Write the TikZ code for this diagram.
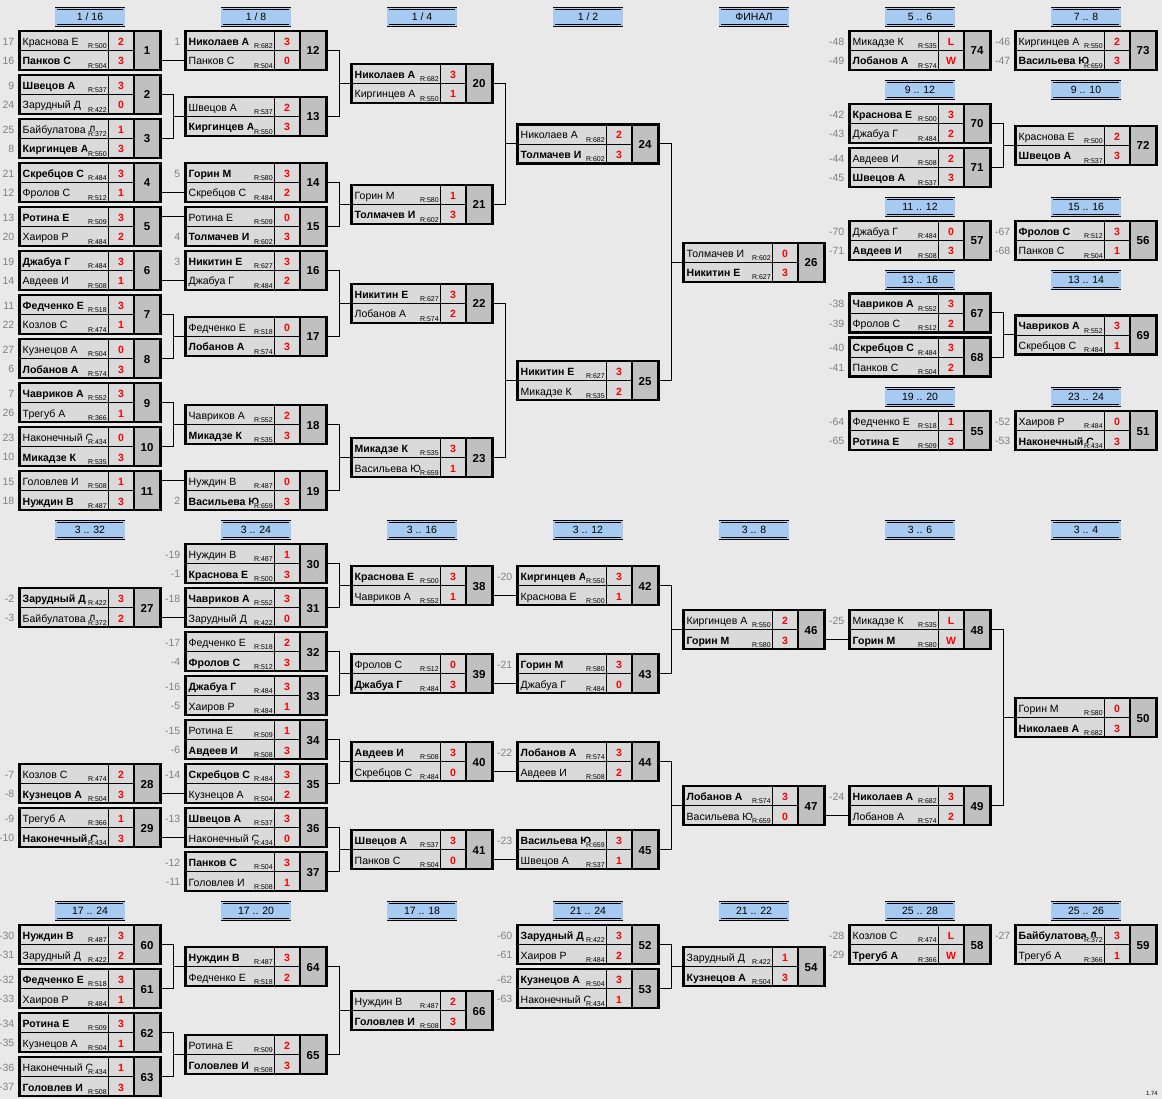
\documentclass[tikz,border=0pt]{standalone}
\usepackage{fontspec}
\setmainfont{Liberation Sans}
\definecolor{bgc}{HTML}{E9E9E9}
\definecolor{cellc}{HTML}{DADADA}
\definecolor{numc}{HTML}{C0C0C0}
\definecolor{hdrc}{HTML}{A6CAF0}
\definecolor{seedc}{HTML}{808080}
\tikzset{
 conn/.style={draw=black, line width=1pt},
 frame/.style={draw=black, line width=2.4pt, minimum width=141pt, minimum height=39pt, inner sep=0pt, outer sep=0pt},
 nm/.style={inner sep=0pt, font=\fontsize{10.5}{12}\selectfont},
 rt/.style={inner sep=0.6pt, fill=cellc, font=\fontsize{7}{8}\selectfont},
 sc/.style={inner sep=0pt, text=red, font=\bfseries\fontsize{10.5}{12}\selectfont},
 num/.style={inner sep=0pt, font=\bfseries\fontsize{11.5}{13}\selectfont},
 seed/.style={inner sep=0pt, text=seedc, font=\fontsize{10.5}{12}\selectfont},
 hdr/.style={draw=black, double=hdrc, double distance=1.2pt, line width=0.8pt, fill=hdrc, minimum width=68pt, minimum height=17pt, inner sep=0pt, font=\fontsize{10.5}{12}\selectfont},
}
\newcommand\Wn{\bfseries}
\newcommand\Match[9]{%
 \fill[cellc] (#2,#3-19.5) rectangle (#2+114,#3+19.5);
 \fill[numc] (#2+114,#3-19.5) rectangle (#2+141,#3+19.5);
 \begin{scope}
 \clip (#2,#3-19.5) rectangle (#2+88.5,#3+19.5);
 \node[nm,anchor=base west] (m#1na) at (#2+3,#3-5) {#4};
 \node[nm,anchor=base west] (m#1nb) at (#2+3,#3+14.5) {#7};
 \end{scope}
 \node[rt,anchor=south east] (m#1ra) at (#2+88,#3-1) {R:#5};
 \node[rt,anchor=south east] (m#1rb) at (#2+88,#3+18.5) {R:#8};
 \draw[line width=0.8pt] (#2,#3) -- (#2+114,#3) (#2+89,#3-19.5) -- (#2+89,#3+19.5);
 \draw[line width=2pt] (#2+114,#3-19.5) -- (#2+114,#3+19.5);
 \node[sc,anchor=base] (m#1sa) at (#2+101.5,#3-5) {#6};
 \node[sc,anchor=base] (m#1sb) at (#2+101.5,#3+14.5) {#9};
 \node[num,anchor=base] (m#1n) at (#2+127.5,#3+4.5) {#1};
 \node[frame] (m#1) at (#2+70.5,#3) {};
 \coordinate (m#1a) at (#2,#3-9.75);
 \coordinate (m#1b) at (#2,#3+9.75);
}
\newcommand\Sd[2]{\node[seed,anchor=base east,xshift=-5pt,yshift=-4.5pt] (s#1) at (#1) {#2};}
\newcommand\Ln[2]{\draw[conn] (m#1.east |- m#2) -- (m#2);}
\newcommand\Fk[3]{\draw[conn] (m#1.east) -- ++(13,0) |- (m#2.east); \draw[conn] (m#3.west) -- ++(-12,0);}
\newcommand\Hd[4]{\node[hdr] (#1) at (#2,#3) {#4};}
\begin{document}
\begin{tikzpicture}[x=1pt,y=-1pt]
\fill[bgc] (0,0) rectangle (1162,1099);
\useasboundingbox (0,0) rectangle (1162,1099);
% headers
\Hd{h1}{90}{17}{1 / 16}
\Hd{h2}{256}{17}{1 / 8}
\Hd{h3}{422}{17}{1 / 4}
\Hd{h4}{588}{17}{1 / 2}
\Hd{h5}{754}{17}{ФИНАЛ}
\Hd{h6}{920}{17}{5 .. 6}
\Hd{h7}{1086}{17}{7 .. 8}
\Hd{h8}{920}{90}{9 .. 12}
\Hd{h9}{1086}{90}{9 .. 10}
\Hd{h10}{920}{207}{11 .. 12}
\Hd{h11}{1086}{207}{15 .. 16}
\Hd{h12}{920}{280}{13 .. 16}
\Hd{h13}{1086}{280}{13 .. 14}
\Hd{h14}{920}{397}{19 .. 20}
\Hd{h15}{1086}{397}{23 .. 24}
\Hd{h16}{90}{530}{3 .. 32}
\Hd{h17}{256}{530}{3 .. 24}
\Hd{h18}{422}{530}{3 .. 16}
\Hd{h19}{588}{530}{3 .. 12}
\Hd{h20}{754}{530}{3 .. 8}
\Hd{h21}{920}{530}{3 .. 6}
\Hd{h22}{1086}{530}{3 .. 4}
\Hd{h23}{90}{911}{17 .. 24}
\Hd{h24}{256}{911}{17 .. 20}
\Hd{h25}{422}{911}{17 .. 18}
\Hd{h26}{588}{911}{21 .. 24}
\Hd{h27}{754}{911}{21 .. 22}
\Hd{h28}{920}{911}{25 .. 28}
\Hd{h29}{1086}{911}{25 .. 26}
% top section
\Match{1}{19.5}{50.5}{Краснова Е}{500}{2}{\Wn Панков С}{504}{3}
\Match{2}{19.5}{94.5}{\Wn Швецов А}{537}{3}{Зарудный Д}{422}{0}
\Match{3}{19.5}{138.5}{Байбулатова Д}{372}{1}{\Wn Киргинцев А}{550}{3}
\Match{4}{19.5}{182.5}{\Wn Скребцов С}{484}{3}{Фролов С}{512}{1}
\Match{5}{19.5}{226.5}{\Wn Ротина Е}{509}{3}{Хаиров Р}{484}{2}
\Match{6}{19.5}{270.5}{\Wn Джабуа Г}{484}{3}{Авдеев И}{508}{1}
\Match{7}{19.5}{314.5}{\Wn Федченко Е}{518}{3}{Козлов С}{474}{1}
\Match{8}{19.5}{358.5}{Кузнецов А}{504}{0}{\Wn Лобанов А}{574}{3}
\Match{9}{19.5}{402.5}{\Wn Чавриков А}{552}{3}{Трегуб А}{366}{1}
\Match{10}{19.5}{446.5}{Наконечный С}{434}{0}{\Wn Микадзе К}{535}{3}
\Match{11}{19.5}{490.5}{Головлев И}{508}{1}{\Wn Нуждин В}{487}{3}
\Sd{m1a}{17}\Sd{m1b}{16}\Sd{m2a}{9}\Sd{m2b}{24}\Sd{m3a}{25}\Sd{m3b}{8}
\Sd{m4a}{21}\Sd{m4b}{12}\Sd{m5a}{13}\Sd{m5b}{20}\Sd{m6a}{19}\Sd{m6b}{14}
\Sd{m7a}{11}\Sd{m7b}{22}\Sd{m8a}{27}\Sd{m8b}{6}\Sd{m9a}{7}\Sd{m9b}{26}
\Sd{m10a}{23}\Sd{m10b}{10}\Sd{m11a}{15}\Sd{m11b}{18}
\Match{12}{185.5}{50.5}{\Wn Николаев А}{682}{3}{Панков С}{504}{0}
\Match{13}{185.5}{116.5}{Швецов А}{537}{2}{\Wn Киргинцев А}{550}{3}
\Match{14}{185.5}{182.5}{\Wn Горин М}{580}{3}{Скребцов С}{484}{2}
\Match{15}{185.5}{226.5}{Ротина Е}{509}{0}{\Wn Толмачев И}{602}{3}
\Match{16}{185.5}{270.5}{\Wn Никитин Е}{627}{3}{Джабуа Г}{484}{2}
\Match{17}{185.5}{336.5}{Федченко Е}{518}{0}{\Wn Лобанов А}{574}{3}
\Match{18}{185.5}{424.5}{Чавриков А}{552}{2}{\Wn Микадзе К}{535}{3}
\Match{19}{185.5}{490.5}{Нуждин В}{487}{0}{\Wn Васильева Ю}{659}{3}
\Sd{m12a}{1}\Sd{m14a}{5}\Sd{m15b}{4}\Sd{m16a}{3}\Sd{m19b}{2}
\Ln{1}{12b}\Fk{2}{3}{13}\Ln{4}{14b}\Ln{5}{15a}\Ln{6}{16b}\Fk{7}{8}{17}\Fk{9}{10}{18}\Ln{11}{19a}
\Match{20}{351.5}{83.5}{\Wn Николаев А}{682}{3}{Киргинцев А}{550}{1}
\Match{21}{351.5}{204.5}{Горин М}{580}{1}{\Wn Толмачев И}{602}{3}
\Match{22}{351.5}{303.5}{\Wn Никитин Е}{627}{3}{Лобанов А}{574}{2}
\Match{23}{351.5}{457.5}{\Wn Микадзе К}{535}{3}{Васильева Ю}{659}{1}
\Fk{12}{13}{20}\Fk{14}{15}{21}\Fk{16}{17}{22}\Fk{18}{19}{23}
\Match{24}{517.5}{144}{Николаев А}{682}{2}{\Wn Толмачев И}{602}{3}
\Match{25}{517.5}{380.5}{\Wn Никитин Е}{627}{3}{Микадзе К}{535}{2}
\Fk{20}{21}{24}\Fk{22}{23}{25}
\Match{26}{683.5}{262.25}{Толмачев И}{602}{0}{\Wn Никитин Е}{627}{3}
\Fk{24}{25}{26}
% right top
\Match{74}{849.5}{50.5}{Микадзе К}{535}{L}{\Wn Лобанов А}{574}{W}
\Sd{m74a}{-48}\Sd{m74b}{-49}
\Match{73}{1015.5}{50.5}{Киргинцев А}{550}{2}{\Wn Васильева Ю}{659}{3}
\Sd{m73a}{-46}\Sd{m73b}{-47}
\Match{70}{849.5}{123.5}{\Wn Краснова Е}{500}{3}{Джабуа Г}{484}{2}
\Sd{m70a}{-42}\Sd{m70b}{-43}
\Match{71}{849.5}{167.5}{Авдеев И}{508}{2}{\Wn Швецов А}{537}{3}
\Sd{m71a}{-44}\Sd{m71b}{-45}
\Match{72}{1015.5}{145.5}{Краснова Е}{500}{2}{\Wn Швецов А}{537}{3}
\Fk{70}{71}{72}
\Match{57}{849.5}{240.5}{Джабуа Г}{484}{0}{\Wn Авдеев И}{508}{3}
\Sd{m57a}{-70}\Sd{m57b}{-71}
\Match{56}{1015.5}{240.5}{\Wn Фролов С}{512}{3}{Панков С}{504}{1}
\Sd{m56a}{-67}\Sd{m56b}{-68}
\Match{67}{849.5}{313}{\Wn Чавриков А}{552}{3}{Фролов С}{512}{2}
\Sd{m67a}{-38}\Sd{m67b}{-39}
\Match{68}{849.5}{357}{\Wn Скребцов С}{484}{3}{Панков С}{504}{2}
\Sd{m68a}{-40}\Sd{m68b}{-41}
\Match{69}{1015.5}{335}{\Wn Чавриков А}{552}{3}{Скребцов С}{484}{1}
\Fk{67}{68}{69}
\Match{55}{849.5}{430.5}{Федченко Е}{518}{1}{\Wn Ротина Е}{509}{3}
\Sd{m55a}{-64}\Sd{m55b}{-65}
\Match{51}{1015.5}{430.5}{Хаиров Р}{484}{0}{\Wn Наконечный С}{434}{3}
\Sd{m51a}{-52}\Sd{m51b}{-53}
% middle section
\Match{27}{19.5}{607.5}{\Wn Зарудный Д}{422}{3}{Байбулатова Д}{372}{2}
\Sd{m27a}{-2}\Sd{m27b}{-3}
\Match{28}{19.5}{783.5}{Козлов С}{474}{2}{\Wn Кузнецов А}{504}{3}
\Sd{m28a}{-7}\Sd{m28b}{-8}
\Match{29}{19.5}{827.5}{Трегуб А}{366}{1}{\Wn Наконечный С}{434}{3}
\Sd{m29a}{-9}\Sd{m29b}{-10}
\Match{30}{185.5}{563.5}{Нуждин В}{487}{1}{\Wn Краснова Е}{500}{3}
\Sd{m30a}{-19}\Sd{m30b}{-1}
\Match{31}{185.5}{607.5}{\Wn Чавриков А}{552}{3}{Зарудный Д}{422}{0}
\Sd{m31a}{-18}
\Match{32}{185.5}{651.5}{Федченко Е}{518}{2}{\Wn Фролов С}{512}{3}
\Sd{m32a}{-17}\Sd{m32b}{-4}
\Match{33}{185.5}{695.5}{\Wn Джабуа Г}{484}{3}{Хаиров Р}{484}{1}
\Sd{m33a}{-16}\Sd{m33b}{-5}
\Match{34}{185.5}{739.5}{Ротина Е}{509}{1}{\Wn Авдеев И}{508}{3}
\Sd{m34a}{-15}\Sd{m34b}{-6}
\Match{35}{185.5}{783.5}{\Wn Скребцов С}{484}{3}{Кузнецов А}{504}{2}
\Sd{m35a}{-14}
\Match{36}{185.5}{827.5}{\Wn Швецов А}{537}{3}{Наконечный С}{434}{0}
\Sd{m36a}{-13}
\Match{37}{185.5}{871.5}{\Wn Панков С}{504}{3}{Головлев И}{508}{1}
\Sd{m37a}{-12}\Sd{m37b}{-11}
\Ln{27}{31b}\Ln{28}{35b}\Ln{29}{36b}
\Match{38}{351.5}{585.5}{\Wn Краснова Е}{500}{3}{Чавриков А}{552}{1}
\Match{39}{351.5}{673.5}{Фролов С}{512}{0}{\Wn Джабуа Г}{484}{3}
\Match{40}{351.5}{761.5}{\Wn Авдеев И}{508}{3}{Скребцов С}{484}{0}
\Match{41}{351.5}{849.5}{\Wn Швецов А}{537}{3}{Панков С}{504}{0}
\Fk{30}{31}{38}\Fk{32}{33}{39}\Fk{34}{35}{40}\Fk{36}{37}{41}
\Match{42}{517.5}{585.5}{\Wn Киргинцев А}{550}{3}{Краснова Е}{500}{1}
\Sd{m42a}{-20}
\Match{43}{517.5}{673.5}{\Wn Горин М}{580}{3}{Джабуа Г}{484}{0}
\Sd{m43a}{-21}
\Match{44}{517.5}{761.5}{\Wn Лобанов А}{574}{3}{Авдеев И}{508}{2}
\Sd{m44a}{-22}
\Match{45}{517.5}{849.5}{\Wn Васильева Ю}{659}{3}{Швецов А}{537}{1}
\Sd{m45a}{-23}
\Ln{38}{42b}\Ln{39}{43b}\Ln{40}{44b}\Ln{41}{45b}
\Match{46}{683.5}{629.5}{Киргинцев А}{550}{2}{\Wn Горин М}{580}{3}
\Match{47}{683.5}{805.5}{\Wn Лобанов А}{574}{3}{Васильева Ю}{659}{0}
\Fk{42}{43}{46}\Fk{44}{45}{47}
\Match{48}{849.5}{629.5}{Микадзе К}{535}{L}{\Wn Горин М}{580}{W}
\Sd{m48a}{-25}
\Match{49}{849.5}{805.5}{\Wn Николаев А}{682}{3}{Лобанов А}{574}{2}
\Sd{m49a}{-24}
\Ln{46}{48b}\Ln{47}{49b}
\Match{50}{1015.5}{717.5}{Горин М}{580}{0}{\Wn Николаев А}{682}{3}
\Fk{48}{49}{50}
% bottom section
\Match{60}{19.5}{944.5}{\Wn Нуждин В}{487}{3}{Зарудный Д}{422}{2}
\Sd{m60a}{-30}\Sd{m60b}{-31}
\Match{61}{19.5}{988.5}{\Wn Федченко Е}{518}{3}{Хаиров Р}{484}{1}
\Sd{m61a}{-32}\Sd{m61b}{-33}
\Match{62}{19.5}{1032.5}{\Wn Ротина Е}{509}{3}{Кузнецов А}{504}{1}
\Sd{m62a}{-34}\Sd{m62b}{-35}
\Match{63}{19.5}{1076.5}{Наконечный С}{434}{1}{\Wn Головлев И}{508}{3}
\Sd{m63a}{-36}\Sd{m63b}{-37}
\Match{64}{185.5}{966.5}{\Wn Нуждин В}{487}{3}{Федченко Е}{518}{2}
\Match{65}{185.5}{1054.5}{Ротина Е}{509}{2}{\Wn Головлев И}{508}{3}
\Fk{60}{61}{64}\Fk{62}{63}{65}
\Match{66}{351.5}{1010.5}{Нуждин В}{487}{2}{\Wn Головлев И}{508}{3}
\Fk{64}{65}{66}
\Match{52}{517.5}{944.5}{\Wn Зарудный Д}{422}{3}{Хаиров Р}{484}{2}
\Sd{m52a}{-60}\Sd{m52b}{-61}
\Match{53}{517.5}{988.5}{\Wn Кузнецов А}{504}{3}{Наконечный С}{434}{1}
\Sd{m53a}{-62}\Sd{m53b}{-63}
\Match{54}{683.5}{966.5}{Зарудный Д}{422}{1}{\Wn Кузнецов А}{504}{3}
\Fk{52}{53}{54}
\Match{58}{849.5}{944.5}{Козлов С}{474}{L}{\Wn Трегуб А}{366}{W}
\Sd{m58a}{-28}\Sd{m58b}{-29}
\Match{59}{1015.5}{944.5}{\Wn Байбулатова Д}{372}{3}{Трегуб А}{366}{1}
\Sd{m59a}{-27}
\node[inner sep=0pt, font=\fontsize{6}{7}\selectfont, anchor=base east] (ver) at (1158,1095) {1.74};
\end{tikzpicture}
\end{document}
